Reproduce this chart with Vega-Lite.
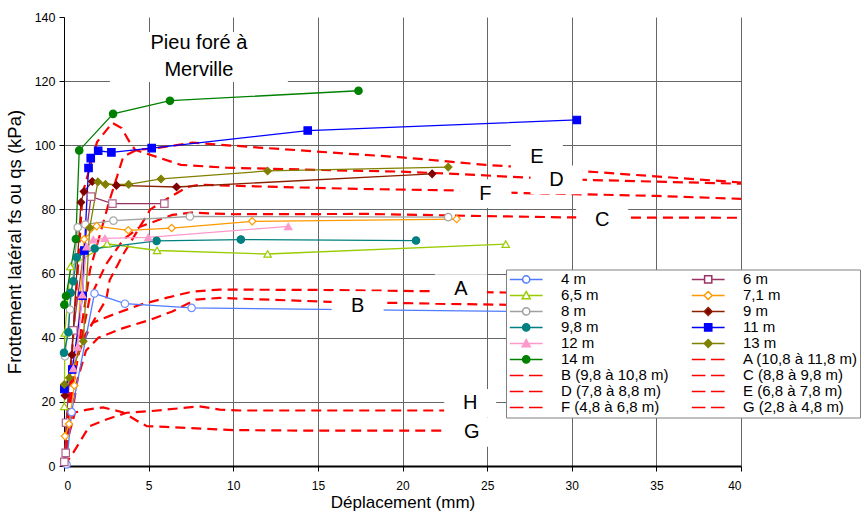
{
  "$schema": "https://vega.github.io/schema/vega-lite/v6.json",
  "width": 677,
  "height": 449,
  "autosize": "none",
  "padding": {"left": 64, "top": 17, "right": 125, "bottom": 49},
  "background": "white",
  "config": {
    "font": "Liberation Sans",
    "view": {"stroke": null},
    "axis": {
      "labelFont": "Liberation Sans",
      "titleFont": "Liberation Sans",
      "labelColor": "black",
      "titleColor": "black",
      "titleFontWeight": "normal",
      "domainColor": "black",
      "tickColor": "black",
      "gridColor": "#666666",
      "gridWidth": 1
    }
  },
  "datasets": {
    "curves": [
      {"c": "A", "x": 0, "y": 0}, {"c": "A", "x": 0.4, "y": 20}, {"c": "A", "x": 0.9, "y": 38}, {"c": "A", "x": 1.71, "y": 44.7}, {"c": "A", "x": 2.9, "y": 47.2}, {"c": "A", "x": 4.5, "y": 50.3}, {"c": "A", "x": 6.1, "y": 52.5}, {"c": "A", "x": 7.6, "y": 54.4}, {"c": "A", "x": 9.2, "y": 55}, {"c": "A", "x": 15, "y": 54.9}, {"c": "A", "x": 21.6, "y": 54.5}, {"c": "A", "x": 26, "y": 54.1}, {"c": "A", "x": 40, "y": 53.5},
      {"c": "B", "x": 0, "y": 0}, {"c": "B", "x": 0.35, "y": 12}, {"c": "B", "x": 0.8, "y": 27}, {"c": "B", "x": 1.3, "y": 36}, {"c": "B", "x": 2.03, "y": 40}, {"c": "B", "x": 3.5, "y": 43}, {"c": "B", "x": 5.1, "y": 45.6}, {"c": "B", "x": 6.4, "y": 48.2}, {"c": "B", "x": 7.8, "y": 51.9}, {"c": "B", "x": 9.2, "y": 52.4}, {"c": "B", "x": 15.7, "y": 51.2}, {"c": "B", "x": 19, "y": 50.9}, {"c": "B", "x": 25.6, "y": 50.3}, {"c": "B", "x": 40, "y": 49.6},
      {"c": "C", "x": 0, "y": 0}, {"c": "C", "x": 0.5, "y": 25}, {"c": "C", "x": 1.5, "y": 52}, {"c": "C", "x": 2.5, "y": 63}, {"c": "C", "x": 3.5, "y": 70.6}, {"c": "C", "x": 4.5, "y": 74.6}, {"c": "C", "x": 6.4, "y": 78.3}, {"c": "C", "x": 7.5, "y": 79}, {"c": "C", "x": 10, "y": 78.5}, {"c": "C", "x": 18, "y": 78.6}, {"c": "C", "x": 24, "y": 78}, {"c": "C", "x": 30, "y": 77.5}, {"c": "C", "x": 40, "y": 77.4},
      {"c": "D", "x": 0, "y": 0}, {"c": "D", "x": 0.4, "y": 30}, {"c": "D", "x": 0.8, "y": 60}, {"c": "D", "x": 1.1, "y": 85}, {"c": "D", "x": 1.95, "y": 101}, {"c": "D", "x": 2.85, "y": 107}, {"c": "D", "x": 3.4, "y": 105.4}, {"c": "D", "x": 3.9, "y": 100.8}, {"c": "D", "x": 4.2, "y": 98.6}, {"c": "D", "x": 6.9, "y": 93.9}, {"c": "D", "x": 9.6, "y": 93}, {"c": "D", "x": 16, "y": 92.2}, {"c": "D", "x": 19.8, "y": 91.8}, {"c": "D", "x": 23.4, "y": 91}, {"c": "D", "x": 27.5, "y": 89.9}, {"c": "D", "x": 31, "y": 89.2}, {"c": "D", "x": 40, "y": 88},
      {"c": "E", "x": 0, "y": 0}, {"c": "E", "x": 0.3, "y": 15}, {"c": "E", "x": 0.8, "y": 35}, {"c": "E", "x": 1.54, "y": 61.2}, {"c": "E", "x": 2.7, "y": 83}, {"c": "E", "x": 3.5, "y": 96.4}, {"c": "E", "x": 4.3, "y": 98.6}, {"c": "E", "x": 5.3, "y": 99}, {"c": "E", "x": 7.6, "y": 100.8}, {"c": "E", "x": 11.5, "y": 99.3}, {"c": "E", "x": 14, "y": 98.4}, {"c": "E", "x": 16.7, "y": 97.4}, {"c": "E", "x": 19.8, "y": 96.3}, {"c": "E", "x": 22.2, "y": 95.2}, {"c": "E", "x": 24.9, "y": 93.9}, {"c": "E", "x": 26.4, "y": 93.4}, {"c": "E", "x": 31, "y": 91.8}, {"c": "E", "x": 40, "y": 88.4},
      {"c": "F", "x": 0, "y": 0}, {"c": "F", "x": 0.53, "y": 31}, {"c": "F", "x": 1.5, "y": 43}, {"c": "F", "x": 2.5, "y": 52}, {"c": "F", "x": 2.7, "y": 58}, {"c": "F", "x": 3.5, "y": 66}, {"c": "F", "x": 4.3, "y": 73}, {"c": "F", "x": 5.1, "y": 80}, {"c": "F", "x": 6.3, "y": 84}, {"c": "F", "x": 7.3, "y": 87}, {"c": "F", "x": 8, "y": 87.7}, {"c": "F", "x": 12.7, "y": 87}, {"c": "F", "x": 17.4, "y": 86.4}, {"c": "F", "x": 23.4, "y": 85.9}, {"c": "F", "x": 27, "y": 85.1}, {"c": "F", "x": 31.7, "y": 84.6}, {"c": "F", "x": 35, "y": 84.2}, {"c": "F", "x": 40, "y": 83.3},
      {"c": "G", "x": 0, "y": 0}, {"c": "G", "x": 0.2, "y": 8}, {"c": "G", "x": 0.65, "y": 16.7}, {"c": "G", "x": 1.3, "y": 17.5}, {"c": "G", "x": 2.3, "y": 18.3}, {"c": "G", "x": 3.5, "y": 16.7}, {"c": "G", "x": 4.5, "y": 13.5}, {"c": "G", "x": 4.9, "y": 12.4}, {"c": "G", "x": 6, "y": 12.2}, {"c": "G", "x": 10, "y": 11.2}, {"c": "G", "x": 15, "y": 11}, {"c": "G", "x": 22.5, "y": 11},
      {"c": "H", "x": 0, "y": 0}, {"c": "H", "x": 0.55, "y": 4.2}, {"c": "H", "x": 1.5, "y": 12.4}, {"c": "H", "x": 2.5, "y": 14.5}, {"c": "H", "x": 3.7, "y": 16.6}, {"c": "H", "x": 5.1, "y": 17.1}, {"c": "H", "x": 8, "y": 18.6}, {"c": "H", "x": 9.2, "y": 17.6}, {"c": "H", "x": 10.4, "y": 17.3}, {"c": "H", "x": 22.5, "y": 17.3}
    ],
    "series": [
      {"s": "4 m", "x": 0.15, "y": 0.5}, {"s": "4 m", "x": 0.45, "y": 16.8}, {"s": "4 m", "x": 1.8, "y": 53.8}, {"s": "4 m", "x": 3.6, "y": 50.6}, {"s": "4 m", "x": 7.54, "y": 49.3}, {"s": "4 m", "x": 30, "y": 48},
      {"s": "6 m", "x": 0.02, "y": 1.3}, {"s": "6 m", "x": 0.1, "y": 4.1}, {"s": "6 m", "x": 0.12, "y": 13.5}, {"s": "6 m", "x": 0.55, "y": 42.3}, {"s": "6 m", "x": 1.6, "y": 84}, {"s": "6 m", "x": 2.86, "y": 81.8}, {"s": "6 m", "x": 5.93, "y": 81.8},
      {"s": "6,5 m", "x": 0.02, "y": 18.6}, {"s": "6,5 m", "x": 0.05, "y": 41.5}, {"s": "6,5 m", "x": 0.38, "y": 62.2}, {"s": "6,5 m", "x": 2.55, "y": 69.3}, {"s": "6,5 m", "x": 5.5, "y": 67.2}, {"s": "6,5 m", "x": 12.03, "y": 66.1}, {"s": "6,5 m", "x": 26.1, "y": 69.2},
      {"s": "7,1 m", "x": 0.06, "y": 9.3}, {"s": "7,1 m", "x": 0.3, "y": 13.1}, {"s": "7,1 m", "x": 0.61, "y": 25.1}, {"s": "7,1 m", "x": 1.19, "y": 70.7}, {"s": "7,1 m", "x": 1.93, "y": 74.8}, {"s": "7,1 m", "x": 3.8, "y": 73.5}, {"s": "7,1 m", "x": 6.36, "y": 74.2}, {"s": "7,1 m", "x": 11.12, "y": 76.3}, {"s": "7,1 m", "x": 23.2, "y": 77},
      {"s": "8 m", "x": 0.06, "y": 34.2}, {"s": "8 m", "x": 0.35, "y": 48.8}, {"s": "8 m", "x": 0.81, "y": 74.4}, {"s": "8 m", "x": 1.26, "y": 75.3}, {"s": "8 m", "x": 2.92, "y": 76.5}, {"s": "8 m", "x": 7.44, "y": 77.8}, {"s": "8 m", "x": 22.7, "y": 77.6},
      {"s": "9 m", "x": 0.06, "y": 22}, {"s": "9 m", "x": 0.47, "y": 34.7}, {"s": "9 m", "x": 1.0, "y": 82.2}, {"s": "9 m", "x": 1.18, "y": 85.6}, {"s": "9 m", "x": 1.67, "y": 88.7}, {"s": "9 m", "x": 3.1, "y": 87.5}, {"s": "9 m", "x": 6.65, "y": 87}, {"s": "9 m", "x": 21.75, "y": 91.1},
      {"s": "9,8 m", "x": 0, "y": 35.3}, {"s": "9,8 m", "x": 0.26, "y": 41.7}, {"s": "9,8 m", "x": 0.4, "y": 54}, {"s": "9,8 m", "x": 0.55, "y": 57.6}, {"s": "9,8 m", "x": 0.75, "y": 65.1}, {"s": "9,8 m", "x": 1.81, "y": 67.8}, {"s": "9,8 m", "x": 5.47, "y": 70.2}, {"s": "9,8 m", "x": 10.45, "y": 70.6}, {"s": "9,8 m", "x": 20.8, "y": 70.3},
      {"s": "11 m", "x": 0.02, "y": 24}, {"s": "11 m", "x": 0.49, "y": 30.1}, {"s": "11 m", "x": 1.1, "y": 53.1}, {"s": "11 m", "x": 1.2, "y": 67.2}, {"s": "11 m", "x": 1.45, "y": 92.9}, {"s": "11 m", "x": 1.58, "y": 96}, {"s": "11 m", "x": 2.02, "y": 98.3}, {"s": "11 m", "x": 2.8, "y": 97.8}, {"s": "11 m", "x": 5.18, "y": 99.1}, {"s": "11 m", "x": 14.4, "y": 104.6}, {"s": "11 m", "x": 30.3, "y": 107.9},
      {"s": "12 m", "x": 0.55, "y": 30.4}, {"s": "12 m", "x": 0.81, "y": 37.1}, {"s": "12 m", "x": 1.08, "y": 53.4}, {"s": "12 m", "x": 1.34, "y": 68.4}, {"s": "12 m", "x": 1.73, "y": 70.6}, {"s": "12 m", "x": 2.42, "y": 71}, {"s": "12 m", "x": 4.98, "y": 71.3}, {"s": "12 m", "x": 13.25, "y": 74.7},
      {"s": "13 m", "x": 0.02, "y": 25.4}, {"s": "13 m", "x": 0.31, "y": 27.5}, {"s": "13 m", "x": 1.14, "y": 38.9}, {"s": "13 m", "x": 1.52, "y": 74.3}, {"s": "13 m", "x": 2.0, "y": 88.6}, {"s": "13 m", "x": 2.45, "y": 87.8}, {"s": "13 m", "x": 3.82, "y": 87.8}, {"s": "13 m", "x": 5.73, "y": 89.5}, {"s": "13 m", "x": 12.03, "y": 92}, {"s": "13 m", "x": 22.7, "y": 93.2},
      {"s": "14 m", "x": 0.02, "y": 50.3}, {"s": "14 m", "x": 0.12, "y": 53}, {"s": "14 m", "x": 0.7, "y": 70.8}, {"s": "14 m", "x": 0.9, "y": 98.4}, {"s": "14 m", "x": 2.9, "y": 109.8}, {"s": "14 m", "x": 6.26, "y": 113.9}, {"s": "14 m", "x": 17.4, "y": 117}
    ],
    "labels": [
      {"t": "E", "x": 27.94, "y": 96.4},
      {"t": "D", "x": 29.1, "y": 89.2},
      {"t": "F", "x": 24.9, "y": 84.9},
      {"t": "C", "x": 31.8, "y": 76.6},
      {"t": "A", "x": 23.45, "y": 55.3},
      {"t": "B", "x": 17.35, "y": 50.0},
      {"t": "H", "x": 24.0, "y": 19.5},
      {"t": "G", "x": 24.1, "y": 10.5}
    ],
    "title": [
      {"t": "Pieu foré à\nMerville", "x": 7.97, "y": 131.9}
    ]
  },
  "resolve": {"scale": {"color": "independent", "fill": "independent", "shape": "independent"}},
  "layer": [
    {
      "data": {"name": "curves"},
      "mark": {"type": "line", "color": "#FF0000", "strokeWidth": 2.2, "strokeDash": [10, 6]},
      "encoding": {
        "x": {
          "field": "x", "type": "quantitative",
          "scale": {"domain": [0, 40], "nice": false},
          "axis": {
            "title": "Déplacement (mm)",
            "values": [0, 5, 10, 15, 20, 25, 30, 35, 40],
            "grid": true,
            "labelFontSize": 12,
            "titleFontSize": 17,
            "tickSize": 5,
            "labelPadding": 9,
            "titlePadding": 3,
            "domainWidth": 2
          }
        },
        "y": {
          "field": "y", "type": "quantitative",
          "scale": {"domain": [0, 140], "nice": false},
          "axis": {
            "title": "Frottement latéral fs ou qs (kPa)",
            "values": [0, 20, 40, 60, 80, 100, 120, 140],
            "grid": true,
            "gridOpacity": {"condition": {"test": "datum.value == 140", "value": 0}, "value": 1},
            "labelFontSize": 12.5,
            "titleFontSize": 18.5,
            "tickSize": 5,
            "labelPadding": 4,
            "titlePadding": 10
          }
        },
        "detail": {"field": "c", "type": "nominal"}
      }
    },
    {
      "data": {"name": "series"},
      "mark": {"type": "line", "strokeWidth": 1.3},
      "encoding": {
        "x": {"field": "x", "type": "quantitative"},
        "y": {"field": "y", "type": "quantitative"},
        "color": {
          "field": "s", "type": "nominal", "legend": null,
          "scale": {
            "domain": ["4 m", "6 m", "6,5 m", "7,1 m", "8 m", "9 m", "9,8 m", "11 m", "12 m", "13 m", "14 m"],
            "range": ["#4F7BFF", "#993366", "#99CC00", "#FF9900", "#A0A0A0", "#8B2000", "#008080", "#0000FF", "#FF99CC", "#808000", "#008000"]
          }
        }
      }
    },
    {
      "data": {"name": "series"},
      "mark": {"type": "point", "filled": false, "opacity": 1, "size": 55, "strokeWidth": 1.2},
      "encoding": {
        "x": {"field": "x", "type": "quantitative"},
        "y": {"field": "y", "type": "quantitative"},
        "color": {
          "field": "s", "type": "nominal", "legend": null,
          "scale": {
            "domain": ["4 m", "6 m", "6,5 m", "7,1 m", "8 m", "9 m", "9,8 m", "11 m", "12 m", "13 m", "14 m"],
            "range": ["#6F8FFF", "#B0608A", "#99CC00", "#FF9900", "#A8A8A8", "#800000", "#008080", "#0000FF", "#FF99CC", "#808000", "#008000"]
          }
        },
        "fill": {
          "field": "s", "type": "nominal", "legend": null,
          "scale": {
            "domain": ["4 m", "6 m", "6,5 m", "7,1 m", "8 m", "9 m", "9,8 m", "11 m", "12 m", "13 m", "14 m"],
            "range": ["white", "white", "white", "white", "white", "#800000", "#008080", "#0000FF", "#FF99CC", "#808000", "#008000"]
          }
        },
        "shape": {
          "field": "s", "type": "nominal", "legend": null,
          "scale": {
            "domain": ["4 m", "6 m", "6,5 m", "7,1 m", "8 m", "9 m", "9,8 m", "11 m", "12 m", "13 m", "14 m"],
            "range": ["circle", "square", "triangle-up", "diamond", "circle", "diamond", "circle", "square", "triangle-up", "diamond", "circle"]
          }
        }
      }
    },
    {
      "data": {"name": "labels"},
      "mark": {"type": "point", "filled": true, "color": "white", "opacity": 1, "size": 1024, "strokeWidth": 0, "shape": "M-1.625,-0.9H1.625V0.9H-1.625Z"},
      "encoding": {
        "x": {"field": "x", "type": "quantitative"},
        "y": {"field": "y", "type": "quantitative"}
      }
    },
    {
      "data": {"name": "title"},
      "mark": {"type": "point", "filled": true, "color": "white", "opacity": 1, "size": 2500, "strokeWidth": 0, "shape": "M-3.56,-0.44H3.56V1.56H-3.56Z"},
      "encoding": {
        "x": {"field": "x", "type": "quantitative"},
        "y": {"field": "y", "type": "quantitative"}
      }
    },
    {
      "data": {"name": "labels"},
      "mark": {"type": "text", "font": "Liberation Sans", "fontSize": 20, "color": "black", "align": "center", "baseline": "middle"},
      "encoding": {
        "x": {"field": "x", "type": "quantitative"},
        "y": {"field": "y", "type": "quantitative"},
        "text": {"field": "t"}
      }
    },
    {
      "data": {"name": "title"},
      "mark": {"type": "text", "font": "Liberation Sans", "fontSize": 20, "color": "black", "align": "center", "baseline": "middle", "lineBreak": "\n", "lineHeight": 27},
      "encoding": {
        "x": {"field": "x", "type": "quantitative"},
        "y": {"field": "y", "type": "quantitative"},
        "text": {"field": "t"}
      }
    },
    {
      "data": {"values": []},
      "mark": {"type": "point", "filled": false, "opacity": 1, "size": 256, "strokeWidth": 1.5},
      "encoding": {
        "x": {"field": "x", "type": "quantitative"},
        "y": {"field": "y", "type": "quantitative"},
        "color": {
          "field": "s", "type": "nominal",
          "scale": {
            "domain": ["4 m", "6 m", "6,5 m", "7,1 m", "8 m", "9 m", "9,8 m", "11 m", "12 m", "13 m", "14 m", "A (10,8 à 11,8 m)", "B (9,8 à 10,8 m)", "C (8,8 à 9,8 m)", "D (7,8 à 8,8 m)", "E (6,8 à 7,8 m)", "F (4,8 à 6,8 m)", "G (2,8 à 4,8 m)"],
            "range": ["#4F7BFF", "#993366", "#99CC00", "#FF9900", "#A0A0A0", "#8B2000", "#008080", "#0000FF", "#FF99CC", "#808000", "#008000", "#FF0000", "#FF0000", "#FF0000", "#FF0000", "#FF0000", "#FF0000", "#FF0000"]
          },
          "legend": {"title": null, "orient": "none", "direction": "horizontal", "legendX": 442, "legendY": 252.5, "columns": 2, "fillColor": "white", "strokeColor": "#808080", "padding": 2, "labelFont": "Liberation Sans", "labelFontSize": 15, "labelColor": "black", "labelOffset": 35, "symbolSize": 256, "symbolStrokeWidth": 1.5, "symbolFillColor": "white", "symbolOpacity": 1, "columnPadding": 21, "rowPadding": 0, "clipHeight": 15.9, "labelLimit": 300}
        },
        "fill": {
          "field": "s", "type": "nominal",
          "scale": {
            "domain": ["4 m", "6 m", "6,5 m", "7,1 m", "8 m", "9 m", "9,8 m", "11 m", "12 m", "13 m", "14 m", "A (10,8 à 11,8 m)", "B (9,8 à 10,8 m)", "C (8,8 à 9,8 m)", "D (7,8 à 8,8 m)", "E (6,8 à 7,8 m)", "F (4,8 à 6,8 m)", "G (2,8 à 4,8 m)"],
            "range": ["white", "white", "white", "white", "white", "#800000", "#008080", "#0000FF", "#FF99CC", "#808000", "#008000", "transparent", "transparent", "transparent", "transparent", "transparent", "transparent", "transparent"]
          },
          "legend": {"title": null, "orient": "none", "direction": "horizontal", "legendX": 442, "legendY": 252.5, "columns": 2, "fillColor": "white", "strokeColor": "#808080", "padding": 2, "labelFont": "Liberation Sans", "labelFontSize": 15, "labelColor": "black", "labelOffset": 35, "symbolSize": 256, "symbolStrokeWidth": 1.5, "symbolFillColor": "white", "symbolOpacity": 1, "columnPadding": 21, "rowPadding": 0, "clipHeight": 15.9, "labelLimit": 300}
        },
        "shape": {
          "field": "s", "type": "nominal",
          "scale": {
            "domain": ["4 m", "6 m", "6,5 m", "7,1 m", "8 m", "9 m", "9,8 m", "11 m", "12 m", "13 m", "14 m", "A (10,8 à 11,8 m)", "B (9,8 à 10,8 m)", "C (8,8 à 9,8 m)", "D (7,8 à 8,8 m)", "E (6,8 à 7,8 m)", "F (4,8 à 6,8 m)", "G (2,8 à 4,8 m)"],
            "range": [
              "M-0.9,0H0.7M1.6,0H3.2M0.7,0A0.45,0.45 0 1,1 1.6,0A0.45,0.45 0 1,1 0.7,0Z",
              "M-0.9,0H0.7M1.6,0H3.2M0.7,-0.45H1.6V0.45H0.7Z",
              "M-0.9,0H0.87M1.43,0H3.2M1.15,-0.5L1.65,0.4H0.65Z",
              "M-0.9,0H0.65M1.65,0H3.2M1.15,-0.5L1.65,0L1.15,0.5L0.65,0Z",
              "M-0.9,0H0.7M1.6,0H3.2M0.7,0A0.45,0.45 0 1,1 1.6,0A0.45,0.45 0 1,1 0.7,0Z",
              "M-0.9,0H0.65M1.65,0H3.2M1.15,-0.5L1.65,0L1.15,0.5L0.65,0Z",
              "M-0.9,0H0.7M1.6,0H3.2M0.7,0A0.45,0.45 0 1,1 1.6,0A0.45,0.45 0 1,1 0.7,0Z",
              "M-0.9,0H0.7M1.6,0H3.2M0.7,-0.45H1.6V0.45H0.7Z",
              "M-0.9,0H0.87M1.43,0H3.2M1.15,-0.5L1.65,0.4H0.65Z",
              "M-0.9,0H0.65M1.65,0H3.2M1.15,-0.5L1.65,0L1.15,0.5L0.65,0Z",
              "M-0.9,0H0.7M1.6,0H3.2M0.7,0A0.45,0.45 0 1,1 1.6,0A0.45,0.45 0 1,1 0.7,0Z",
              "M-0.9,0H0.8M1.5,0H3.2",
              "M-0.9,0H0.8M1.5,0H3.2",
              "M-0.9,0H0.8M1.5,0H3.2",
              "M-0.9,0H0.8M1.5,0H3.2",
              "M-0.9,0H0.8M1.5,0H3.2",
              "M-0.9,0H0.8M1.5,0H3.2",
              "M-0.9,0H0.8M1.5,0H3.2"
            ]
          },
          "legend": {"title": null, "orient": "none", "direction": "horizontal", "legendX": 442, "legendY": 252.5, "columns": 2, "fillColor": "white", "strokeColor": "#808080", "padding": 2, "labelFont": "Liberation Sans", "labelFontSize": 15, "labelColor": "black", "labelOffset": 35, "symbolSize": 256, "symbolStrokeWidth": 1.5, "symbolFillColor": "white", "symbolOpacity": 1, "columnPadding": 21, "rowPadding": 0, "clipHeight": 15.9, "labelLimit": 300}
        }
      }
    }
  ]
}
